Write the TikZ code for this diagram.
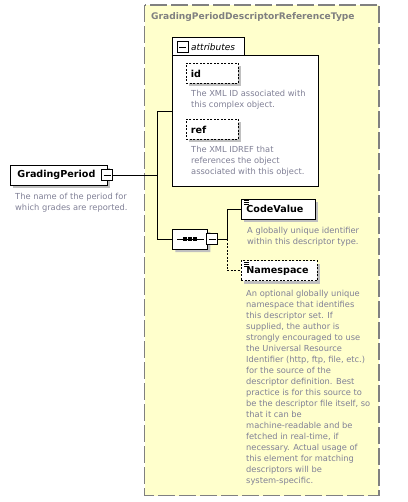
\documentclass[tikz,border=0pt]{standalone}
\usepackage{fontspec}
\setmainfont{DejaVu Sans}
\usetikzlibrary{shapes.misc,shadows}

\definecolor{typefill}{RGB}{255,255,204}
\definecolor{typeline}{RGB}{128,128,128}
\definecolor{doctext}{RGB}{128,128,150}
\definecolor{shadowgray}{RGB}{192,192,192}

\tikzset{
    elem/.style={draw=black, fill=white, line width=0.8pt, anchor=west,
        minimum height=20pt, inner ysep=0pt, align=left,
        font=\bfseries\fontsize{9.6}{11}\selectfont,
        drop shadow={shadow xshift=3pt, shadow yshift=-3pt, fill=shadowgray, opacity=1}},
    optelem/.style={elem, dash pattern=on 2pt off 1.5pt},
    doc/.style={anchor=north west, align=left, inner sep=0pt, text=doctext,
        font=\fontsize{8.3}{11}\selectfont},
    minusbox/.style={draw=black, fill=white, line width=0.8pt, minimum size=11pt, inner sep=0pt,
        path picture={\draw[line width=0.8pt] ([xshift=2pt]path picture bounding box.west)
            -- ([xshift=-2pt]path picture bounding box.east);}},
    seqbox/.style={chamfered rectangle, chamfered rectangle xsep=4pt, draw=black, fill=white,
        line width=0.8pt, minimum width=35pt, minimum height=20pt, inner sep=0pt,
        drop shadow={shadow xshift=3pt, shadow yshift=-3pt, fill=shadowgray, opacity=1}},
    link/.style={line width=0.8pt},
}

\begin{document}
\begin{tikzpicture}[x=1pt, y=-1pt]
    \useasboundingbox (0,0) rectangle (407,502);
    % Complex type
        \draw[typeline, fill=typefill, line width=1.2pt, dash pattern=on 17pt off 4pt]
            (144.5,5) rectangle (379,495.5);
        \node[anchor=west, inner sep=0pt, text=typeline, font=\bfseries\fontsize{9.1}{10}\selectfont]
            (title) at (151,17.5) {GradingPeriodDescriptorReferenceType};

    % Attributes
        \node[draw=black, fill=white, line width=0.8pt, anchor=north west,
            minimum width=146pt, minimum height=131pt] (attr) at (172,55) {};
        \node[draw=black, fill=white, line width=0.8pt, anchor=south west,
            minimum width=72pt, minimum height=17pt] (attrtab) at (172,55) {};
        \draw[white, line width=1pt] ([xshift=0.6pt]attrtab.south west) -- ([xshift=-0.6pt]attrtab.south east);
        \node[minusbox, anchor=west] (attrminus) at (177,47) {};
        \node[anchor=west, inner sep=0pt, font=\itshape\fontsize{9}{10}\selectfont]
            (attrname) at (191,47) {attributes};
        \coordinate (attrin) at (172,111);

        \node[optelem, minimum width=52pt, text width=43pt, inner xsep=0pt, xshift=9pt] (id) at (177,73.5) {id};
        \node[doc] (iddoc) at (191,90) {The XML ID associated with\\this complex object.};
        \node[optelem, minimum width=52pt, text width=43pt, inner xsep=0pt, xshift=9pt] (ref) at (177,129.5) {ref};
        \node[doc] (refdoc) at (191,146) {The XML IDREF that\\references the object\\associated with this object.};

    % Element
        \node[elem, minimum width=97pt, text width=83pt, inner xsep=7pt] (gp) at (10,175) {GradingPeriod};
        \node[minusbox] (gpminus) at (107,175) {};
        \node[doc] (gpdoc) at (15,192.5) {The name of the period for\\which grades are reported.};
        \coordinate (split) at (157,175);

    % Sequence
        \node[seqbox, anchor=west] (seq) at (172,239) {};
        \draw[link] ([xshift=5pt]seq.west) -- ([xshift=-4pt]seq.east);
        \foreach \dx in {-5,0,5}
            \fill ([xshift=\dx pt]seq.center) ++(-1.6,-1.6) rectangle ++(3.2,3.2);
        \node[minusbox] (seqminus) at (212,239) {};
        \coordinate (seqsplit) at (227,239);

    % Children
        \node[elem, minimum width=74pt, text width=64pt, inner xsep=5pt] (cv) at (241,209) {CodeValue};
        \node[doc] (cvdoc) at (247,227) {A globally unique identifier\\within this descriptor type.};
        \node[optelem, minimum width=76pt, text width=66pt, inner xsep=5pt] (ns) at (241,270.5) {Namespace};
        \node[doc] (nsdoc) at (246,289.5) {An optional globally unique\\namespace that identifies\\this descriptor set. If\\supplied, the author is\\strongly encouraged to use\\the Universal Resource\\Identifier (http, ftp, file, etc.)\\for the source of the\\descriptor definition. Best\\practice is for this source to\\be the descriptor file itself, so\\that it can be\\machine-readable and be\\fetched in real-time, if\\necessary. Actual usage of\\this element for matching\\descriptors will be\\system-specific.};
        \foreach \n in {cv,ns}
            \foreach \dy in {2,4,6}
                \draw[line width=0.6pt] ([xshift=3pt,yshift=-\dy pt]\n.north west) -- ++(5,0);

    % Draw links
        \draw[link] (gpminus) -- (split);
        \draw[link] (split) |- (attrin);
        \draw[link] (split) |- (seq);
        \draw[link] (seqminus) -- (seqsplit);
        \draw[link] (seqsplit) |- (cv);
        \draw[link, dash pattern=on 2pt off 1.5pt] (seqsplit) |- (ns);
\end{tikzpicture}
\end{document}
